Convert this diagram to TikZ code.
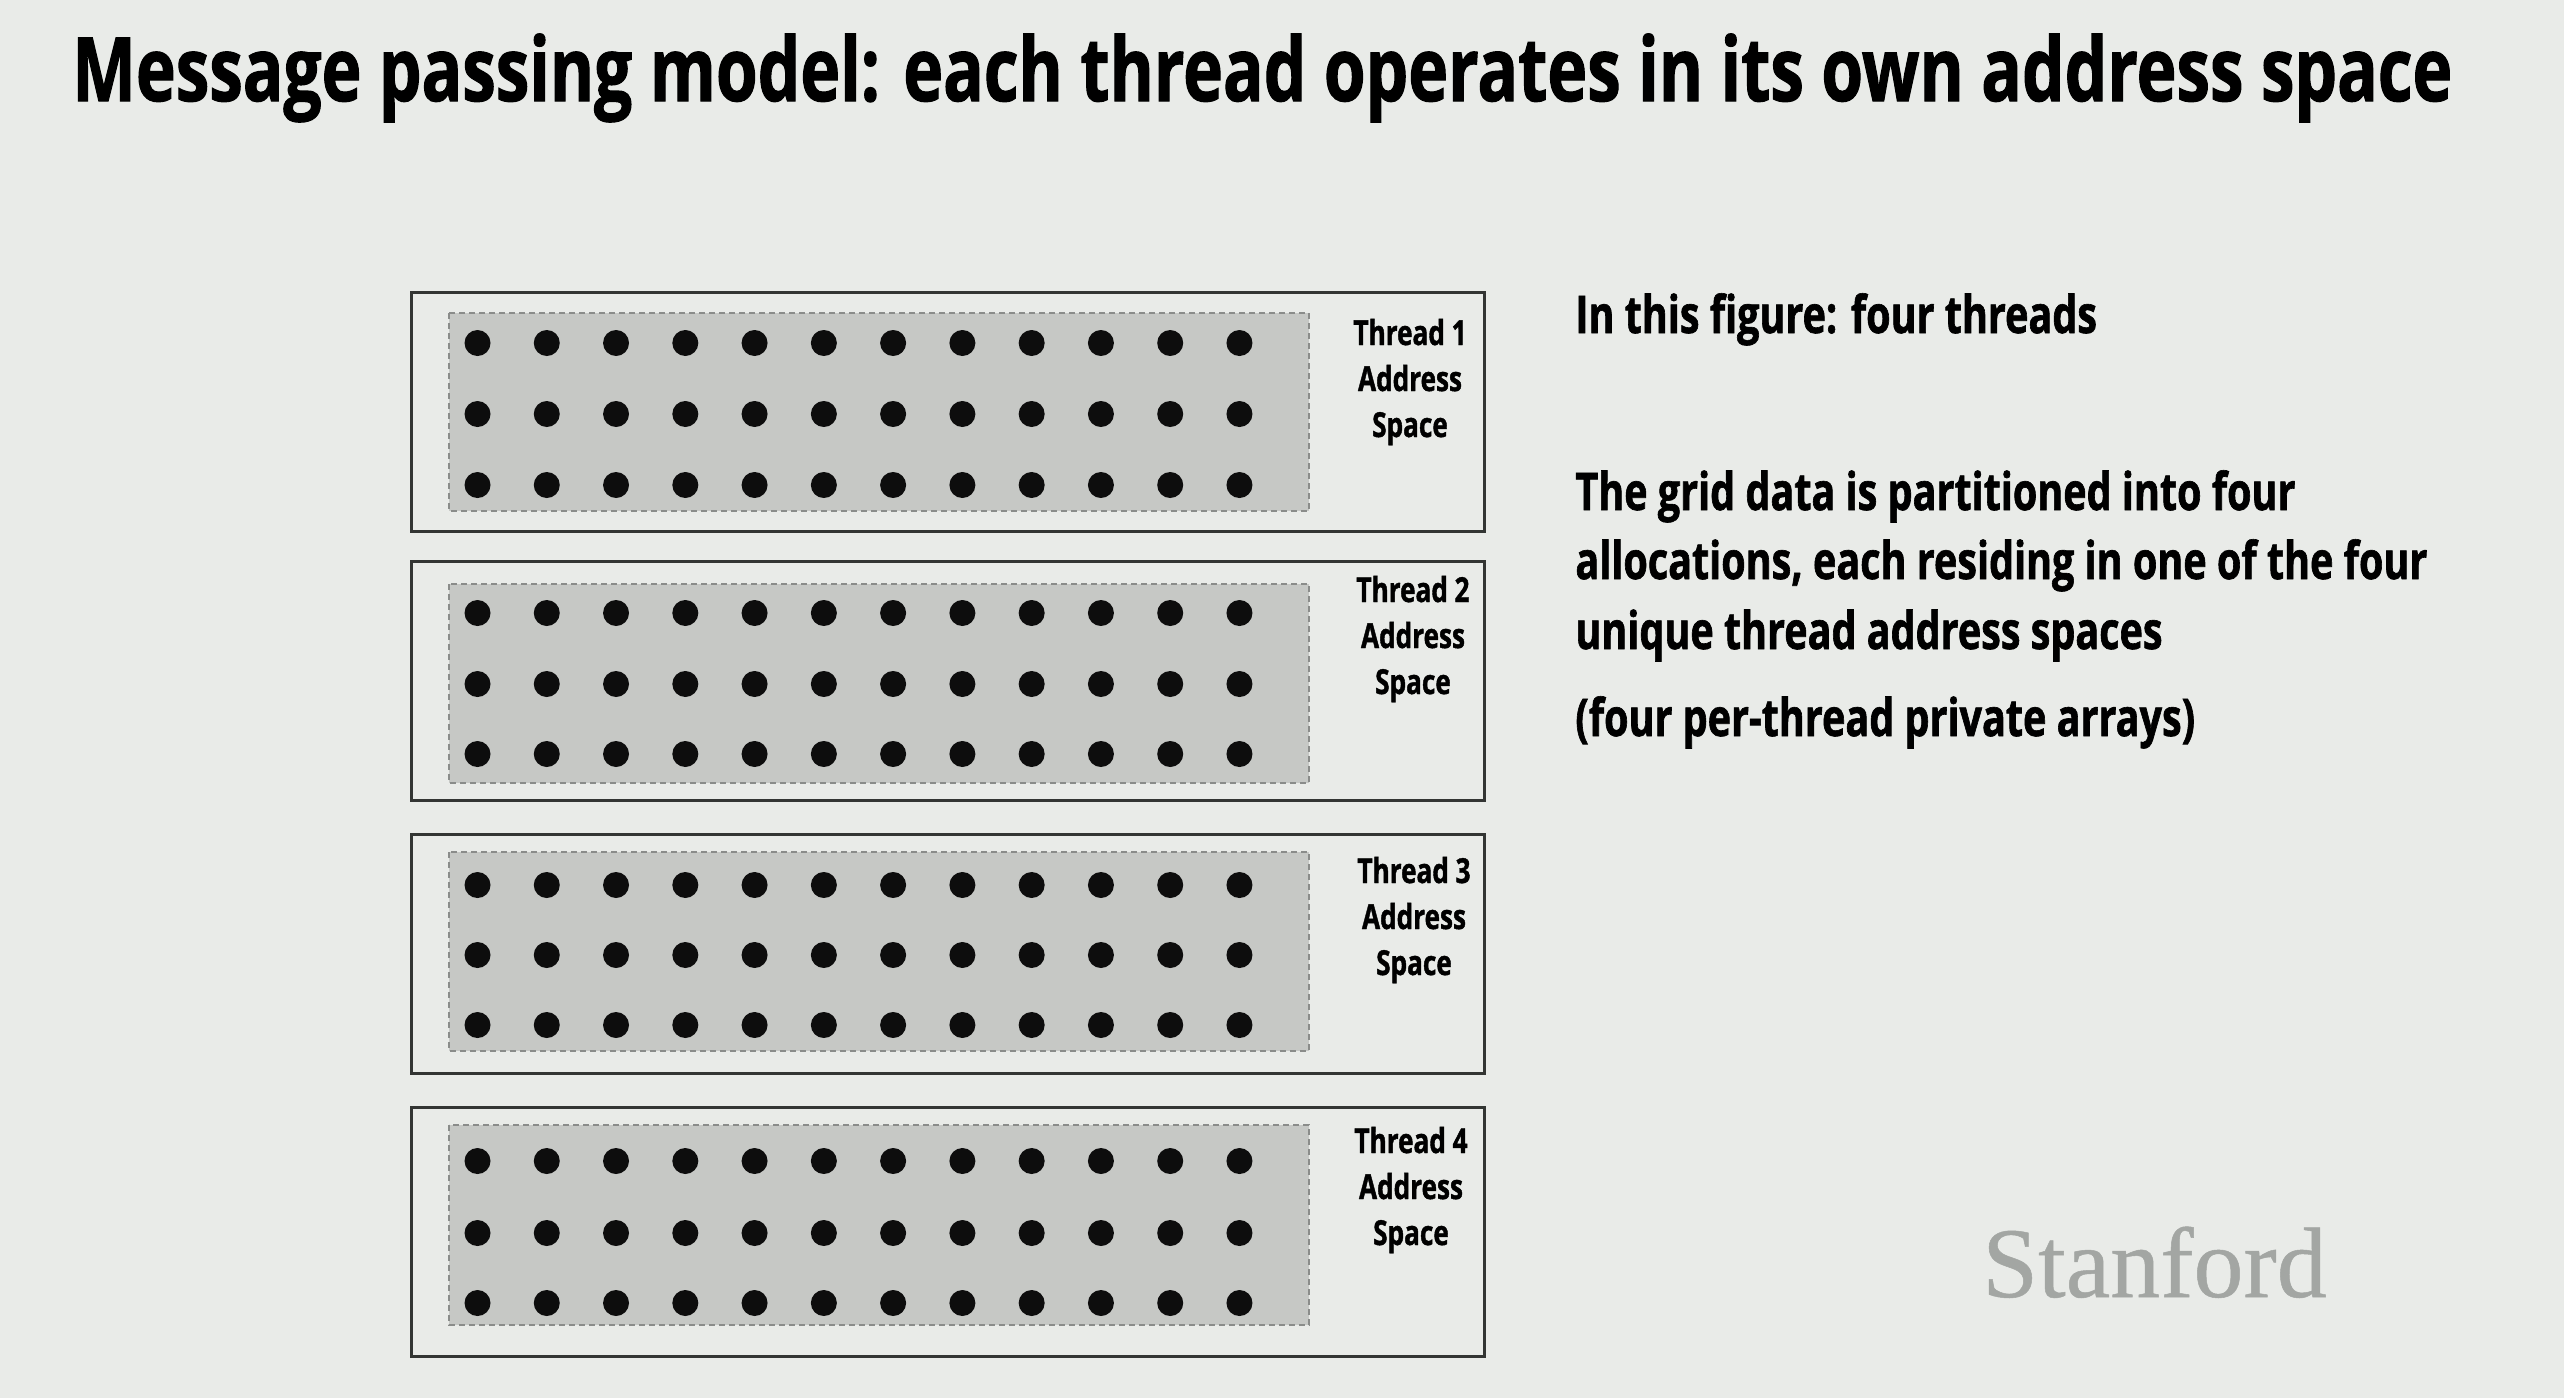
\documentclass[tikz,border=0pt]{standalone}
\usepackage{fontspec}
\setmainfont[FakeStretch=0.76,BoldFeatures={FakeBold=1.2}]{Open Sans}
\newfontfamily\serifstan[FakeBold=0.5]{Liberation Serif}
\definecolor{slidebg}{HTML}{E9EBE8}
\definecolor{gridgray}{HTML}{C6C8C5}
\definecolor{dashgray}{HTML}{8A8C8A}
\definecolor{framegray}{HTML}{333533}
\definecolor{stangray}{HTML}{A3A6A3}
\tikzset{
  framebox/.style={draw=framegray,line width=1.5pt},
  gridbox/.style={fill=gridgray,draw=dashgray,line width=1pt,dash pattern=on 3pt off 2pt},
  griddot/.style={fill=black!95},
  titletext/.style={anchor=base west,inner sep=0pt,font=\fontsize{44.35}{44.35}\selectfont\bfseries},
  bodytext/.style={anchor=base west,inner sep=0pt,font=\fontsize{26}{26}\selectfont\bfseries},
  threadtext/.style={anchor=base,inner sep=0pt,font=\fontsize{17.2}{17.2}\selectfont\bfseries},
  stantext/.style={anchor=base west,inner sep=0pt,text=stangray,font=\fontsize{50}{50}\selectfont\serifstan},
}
\begin{document}
\begin{tikzpicture}[x=0.5pt,y=-0.5pt]
\path[use as bounding box,fill=slidebg] (0,0) rectangle (2564,1398);
\node[titletext] (title) at (72,101) {Message passing model: each thread operates in its own address space};
\foreach \n/\ft/\fb/\gt/\gb/\ra/\rb/\rc/\lx/\la/\lb/\lc in {
  1/292/531/313/511/343/414/485/1410/345/391/437,
  2/561/800/584/783/613/684/754/1413/602/648/694,
  3/834/1073/852/1051/885/955/1025/1414/883/929/975,
  4/1107/1356/1125/1325/1161/1233/1303/1411/1153/1199/1245}{
  \draw[framebox] (411,\ft) coordinate (frame\n tl) rectangle (1484,\fb) coordinate (frame\n br);
  \draw[gridbox] (449,\gt) coordinate (grid\n tl) rectangle (1309,\gb) coordinate (grid\n br);
  \foreach \r in {\ra,\rb,\rc}{
    \foreach \i in {0,...,11}{
      \fill[griddot] ({477.5+69.27*\i},\r) circle[radius=13];
    }
  }
  \node[threadtext] (thread\n) at (\lx,\la) {Thread \n};
  \node[threadtext] (addr\n) at (\lx,\lb) {Address};
  \node[threadtext] (space\n) at (\lx,\lc) {Space};
}
\node[bodytext] (t1) at (1575,333) {In this figure: four threads};
\node[bodytext] (t2) at (1575,510) {The grid data is partitioned into four};
\node[bodytext] (t3) at (1575,579) {allocations, each residing in one of the four};
\node[bodytext] (t4) at (1575,649) {unique thread address spaces};
\node[bodytext] (t5) at (1575,736) {(four per-thread private arrays)};
\node[stantext] (stan) at (1982,1297) {Stanford};
\end{tikzpicture}
\end{document}
